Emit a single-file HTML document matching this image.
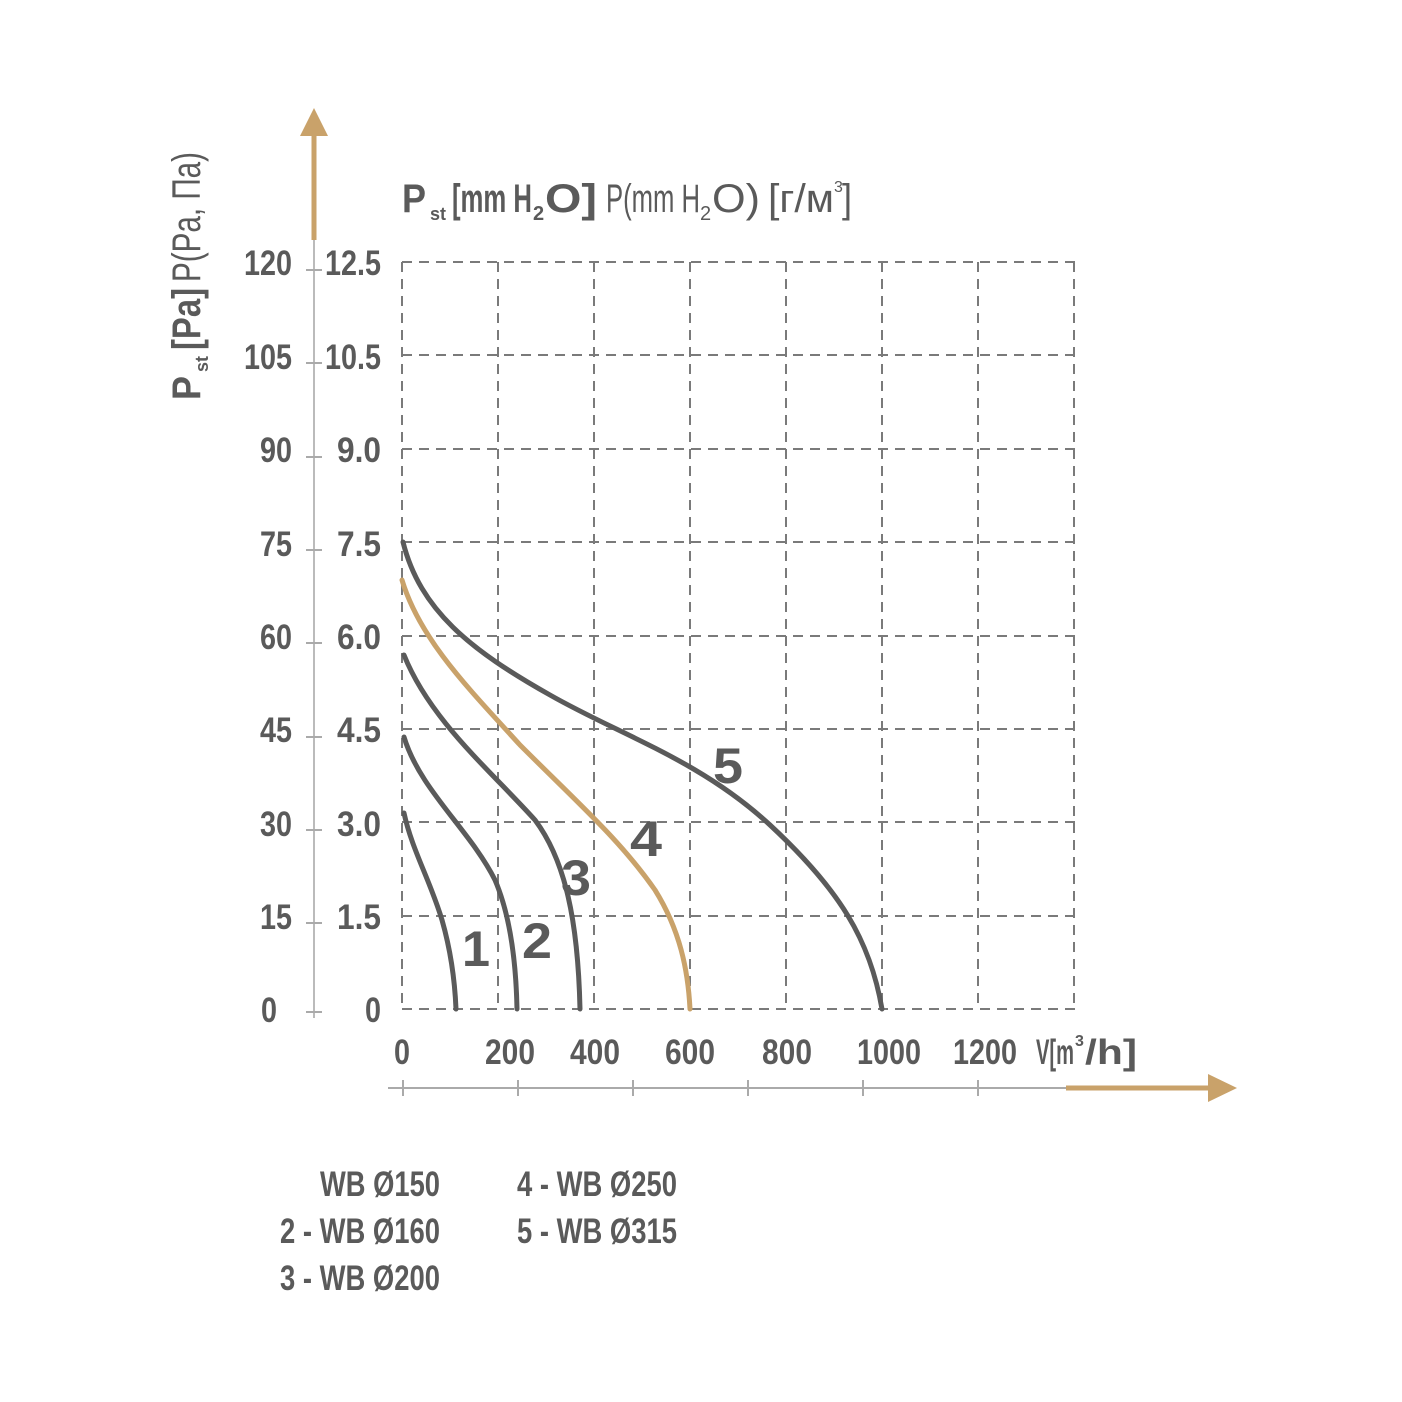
<!DOCTYPE html>
<html><head><meta charset="utf-8"><style>
html,body{margin:0;padding:0;background:#fff;}
svg{display:block;}
text{font-family:"Liberation Sans",sans-serif;fill:#5a5a5a;font-weight:bold;}
</style></head><body>
<svg width="1402" height="1402" viewBox="0 0 1402 1402" xmlns="http://www.w3.org/2000/svg">
<g stroke="#7a7a7a" stroke-width="2" stroke-dasharray="10,7" fill="none">
<line x1="402" y1="262" x2="1076" y2="262"/>
<line x1="402" y1="355" x2="1076" y2="355"/>
<line x1="402" y1="449" x2="1076" y2="449"/>
<line x1="402" y1="542" x2="1076" y2="542"/>
<line x1="402" y1="636" x2="1076" y2="636"/>
<line x1="402" y1="729" x2="1076" y2="729"/>
<line x1="402" y1="822" x2="1076" y2="822"/>
<line x1="402" y1="916" x2="1076" y2="916"/>
<line x1="402" y1="1009" x2="1076" y2="1009"/>
<line x1="402" y1="262" x2="402" y2="1009"/>
<line x1="498" y1="262" x2="498" y2="1009"/>
<line x1="594" y1="262" x2="594" y2="1009"/>
<line x1="690" y1="262" x2="690" y2="1009"/>
<line x1="786" y1="262" x2="786" y2="1009"/>
<line x1="882" y1="262" x2="882" y2="1009"/>
<line x1="978" y1="262" x2="978" y2="1009"/>
<line x1="1074" y1="262" x2="1074" y2="1009"/>
</g>
<line x1="314" y1="240" x2="314" y2="1018" stroke="#bbb" stroke-width="2"/>
<line x1="314" y1="132" x2="314" y2="240" stroke="#c9a26a" stroke-width="5"/>
<polygon points="314,108 300,136 328,136" fill="#c9a26a"/>
<g stroke="#aaa" stroke-width="2">
<line x1="306" y1="270" x2="322" y2="270"/><line x1="306" y1="363" x2="322" y2="363"/>
<line x1="306" y1="457" x2="322" y2="457"/><line x1="306" y1="550" x2="322" y2="550"/>
<line x1="306" y1="643" x2="322" y2="643"/><line x1="306" y1="737" x2="322" y2="737"/>
<line x1="306" y1="830" x2="322" y2="830"/><line x1="306" y1="923" x2="322" y2="923"/>
<line x1="306" y1="1012" x2="322" y2="1012"/>
</g>
<line x1="388" y1="1088" x2="1066" y2="1088" stroke="#aaa" stroke-width="2"/>
<line x1="1066" y1="1088" x2="1212" y2="1088" stroke="#c9a26a" stroke-width="5"/>
<polygon points="1237,1088 1208,1074 1208,1102" fill="#c9a26a"/>
<g stroke="#aaa" stroke-width="2">
<line x1="403" y1="1080" x2="403" y2="1096"/><line x1="518" y1="1080" x2="518" y2="1096"/>
<line x1="633" y1="1080" x2="633" y2="1096"/><line x1="748" y1="1080" x2="748" y2="1096"/>
<line x1="863" y1="1080" x2="863" y2="1096"/><line x1="978" y1="1080" x2="978" y2="1096"/>
</g>
<g font-size="35" text-anchor="end">
<text x="292" y="275" textLength="48" lengthAdjust="spacingAndGlyphs">120</text>
<text x="292" y="369" textLength="48" lengthAdjust="spacingAndGlyphs">105</text>
<text x="292" y="462" textLength="32" lengthAdjust="spacingAndGlyphs">90</text>
<text x="292" y="556" textLength="32" lengthAdjust="spacingAndGlyphs">75</text>
<text x="292" y="649" textLength="32" lengthAdjust="spacingAndGlyphs">60</text>
<text x="292" y="742" textLength="32" lengthAdjust="spacingAndGlyphs">45</text>
<text x="292" y="836" textLength="32" lengthAdjust="spacingAndGlyphs">30</text>
<text x="292" y="929" textLength="32" lengthAdjust="spacingAndGlyphs">15</text>
<text x="277" y="1022" textLength="16" lengthAdjust="spacingAndGlyphs">0</text>
<text x="381" y="275" textLength="56" lengthAdjust="spacingAndGlyphs">12.5</text>
<text x="381" y="369" textLength="56" lengthAdjust="spacingAndGlyphs">10.5</text>
<text x="381" y="462" textLength="44" lengthAdjust="spacingAndGlyphs">9.0</text>
<text x="381" y="556" textLength="44" lengthAdjust="spacingAndGlyphs">7.5</text>
<text x="381" y="649" textLength="44" lengthAdjust="spacingAndGlyphs">6.0</text>
<text x="381" y="742" textLength="44" lengthAdjust="spacingAndGlyphs">4.5</text>
<text x="381" y="836" textLength="44" lengthAdjust="spacingAndGlyphs">3.0</text>
<text x="381" y="929" textLength="44" lengthAdjust="spacingAndGlyphs">1.5</text>
<text x="381" y="1022" textLength="16" lengthAdjust="spacingAndGlyphs">0</text>
</g>
<g font-size="35">
<text x="394" y="1064" textLength="16" lengthAdjust="spacingAndGlyphs">0</text>
<text x="485" y="1064" textLength="50" lengthAdjust="spacingAndGlyphs">200</text>
<text x="570" y="1064" textLength="50" lengthAdjust="spacingAndGlyphs">400</text>
<text x="665" y="1064" textLength="50" lengthAdjust="spacingAndGlyphs">600</text>
<text x="762" y="1064" textLength="50" lengthAdjust="spacingAndGlyphs">800</text>
<text x="857" y="1064" textLength="64" lengthAdjust="spacingAndGlyphs">1000</text>
<text x="953" y="1064" textLength="64" lengthAdjust="spacingAndGlyphs">1200</text>
<text x="1036" y="1064" textLength="38" lengthAdjust="spacingAndGlyphs">V[m</text>
<text x="1075" y="1046" font-size="16">3</text>
<text x="1085" y="1064" textLength="52" lengthAdjust="spacingAndGlyphs">/h]</text>
</g>
<g font-size="40">
<text x="402" y="212" textLength="24" lengthAdjust="spacingAndGlyphs">P</text>
<text x="430" y="220" font-size="18">st</text>
<text x="452" y="212" textLength="80" lengthAdjust="spacingAndGlyphs">[mm H</text>
<text x="533" y="220" font-size="20">2</text>
<text x="545" y="212" textLength="52" lengthAdjust="spacingAndGlyphs">O]</text>
<text x="606" y="212" textLength="94" lengthAdjust="spacingAndGlyphs" style="font-weight:normal">P(mm H</text>
<text x="700" y="220" font-size="20" style="font-weight:normal">2</text>
<text x="712" y="212" textLength="48" lengthAdjust="spacingAndGlyphs" style="font-weight:normal">O)</text>
<text x="768" y="212" textLength="66" lengthAdjust="spacingAndGlyphs" style="font-weight:normal">[г/м</text>
<text x="834" y="192" font-size="16" style="font-weight:normal">3</text>
<text x="842" y="212" style="font-weight:normal" textLength="10" lengthAdjust="spacingAndGlyphs">]</text>
</g>
<g transform="translate(200,400) rotate(-90)" font-size="40">
<text x="0" y="0" textLength="24" lengthAdjust="spacingAndGlyphs">P</text>
<text x="28" y="8" font-size="18">st</text>
<text x="50" y="0" textLength="62" lengthAdjust="spacingAndGlyphs">[Pa]</text>
<text x="118" y="0" textLength="130" lengthAdjust="spacingAndGlyphs" style="font-weight:normal">P(Pa, Па)</text>
</g>
<g fill="none" stroke="#5a5a5a" stroke-width="5" stroke-linecap="round">
<path d="M404,813 C412,850 430,880 442,920 C452,955 455,985 456,1009"/>
<path d="M404,737 C420,790 470,830 495,880 C510,915 516,960 517,1009"/>
<path d="M404,655 C430,720 490,770 535,820 C565,860 578,920 580,1009"/>
<path d="M403,542 C420,610 470,650 550,695 C620,735 700,760 770,825 C840,890 870,940 882,1009"/>
</g>
<path d="M402,580 C420,640 470,690 520,745 C580,805 620,840 655,890 C680,930 688,970 690,1009" fill="none" stroke="#c9a26a" stroke-width="5" stroke-linecap="round"/>
<g font-size="50">
<text x="462" y="966" textLength="28" lengthAdjust="spacingAndGlyphs">1</text>
<text x="522" y="958" textLength="30" lengthAdjust="spacingAndGlyphs">2</text>
<text x="561" y="895" textLength="30" lengthAdjust="spacingAndGlyphs">3</text>
<text x="630" y="856" textLength="32" lengthAdjust="spacingAndGlyphs">4</text>
<text x="713" y="783" textLength="30" lengthAdjust="spacingAndGlyphs">5</text>
</g>
<g font-size="35">
<text x="440" y="1196" text-anchor="end" textLength="120" lengthAdjust="spacingAndGlyphs">WB Ø150</text>
<text x="440" y="1243" text-anchor="end" textLength="160" lengthAdjust="spacingAndGlyphs">2 - WB Ø160</text>
<text x="440" y="1290" text-anchor="end" textLength="160" lengthAdjust="spacingAndGlyphs">3 - WB Ø200</text>
<text x="517" y="1196" textLength="160" lengthAdjust="spacingAndGlyphs">4 - WB Ø250</text>
<text x="517" y="1243" textLength="160" lengthAdjust="spacingAndGlyphs">5 - WB Ø315</text>
</g>
</svg>
</body></html>
